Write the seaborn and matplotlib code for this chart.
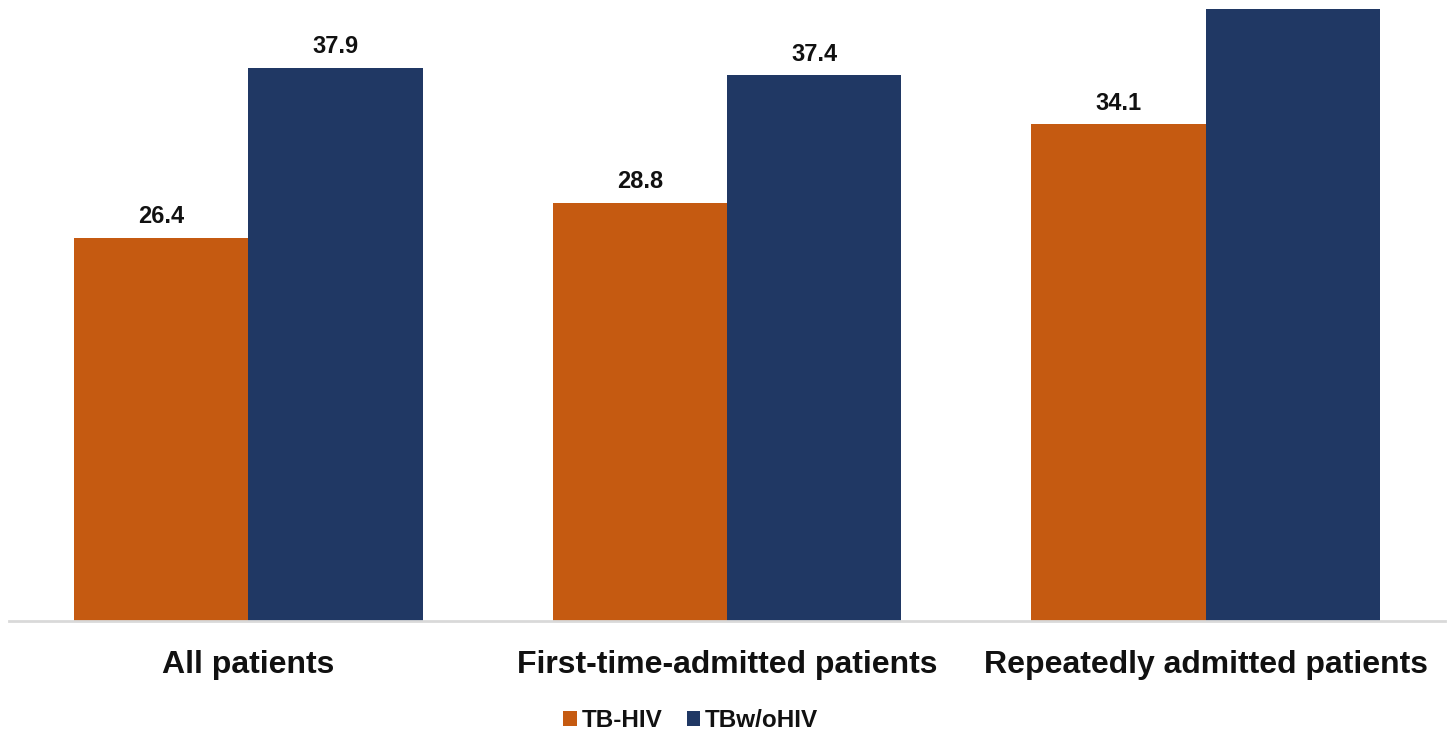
import matplotlib
matplotlib.use("Agg")
import matplotlib.pyplot as plt
import seaborn as sns
import pandas as pd
from matplotlib.patches import Patch

categories = ["All patients", "First-time-admitted patients", "Repeatedly admitted patients"]
groups = ["TB-HIV", "TBw/oHIV"]
tb_hiv = [26.4, 28.8, 34.1]
tb_without_hiv = [37.9, 37.4, 41.9]
shown_labels = [True, True, True, True, True, False]  # last label sits above the frame

palette = {"TB-HIV": "#C55A11", "TBw/oHIV": "#203864"}

df = pd.DataFrame({
    "category": categories * 2,
    "group": [groups[0]] * 3 + [groups[1]] * 3,
    "value": tb_hiv + tb_without_hiv,
})

sns.set_theme(style="white")
plt.rcParams["font.family"] = ["Liberation Sans", "DejaVu Sans"]

fig = plt.figure(figsize=(14.48, 7.30), dpi=100)
ax = fig.add_axes([0.0062, 0.149, 0.9917, 0.851])

sns.barplot(data=df, x="category", y="value", hue="group", order=categories,
            hue_order=groups, palette=palette, width=0.728, gap=0,
            saturation=1, ax=ax, legend=False, edgecolor="none")

ax.set_xlim(-0.5, 2.5)
ax.set_ylim(0.5, 42.5)

# value labels above bars (hue order: TB-HIV bars first, then TBw/oHIV)
bars = [p for c in ax.containers for p in c]
for bar, show in zip(bars, shown_labels):
    if not show:
        continue
    h = bar.get_height()
    ax.annotate(f"{h:.1f}", (bar.get_x() + bar.get_width() / 2, h),
                xytext=(0, 7), textcoords="offset points",
                ha="center", va="bottom", fontsize=17, fontweight="bold",
                color="#111111")

for side in ["top", "right", "left"]:
    ax.spines[side].set_visible(False)
ax.spines["bottom"].set_color("#D9D9D9")
ax.spines["bottom"].set_linewidth(2)
ax.set_yticks([])
ax.set_xlabel("")
ax.set_ylabel("")
ax.tick_params(axis="x", length=0, pad=21)
for lbl in ax.get_xticklabels():
    lbl.set_fontsize(23)
    lbl.set_fontweight("bold")
    lbl.set_color("#111111")

handles = [Patch(facecolor=palette[g], edgecolor="none", label=g) for g in groups]
leg = fig.legend(handles=handles, loc="center", bbox_to_anchor=(0.477, 0.013),
                 ncol=2, frameon=False, handlelength=0.55, handleheight=0.55,
                 handletextpad=0.2, columnspacing=1.0,
                 prop={"size": 17.5, "weight": "bold"})
for t in leg.get_texts():
    t.set_color("#111111")

fig.savefig("out.png", dpi=100)
